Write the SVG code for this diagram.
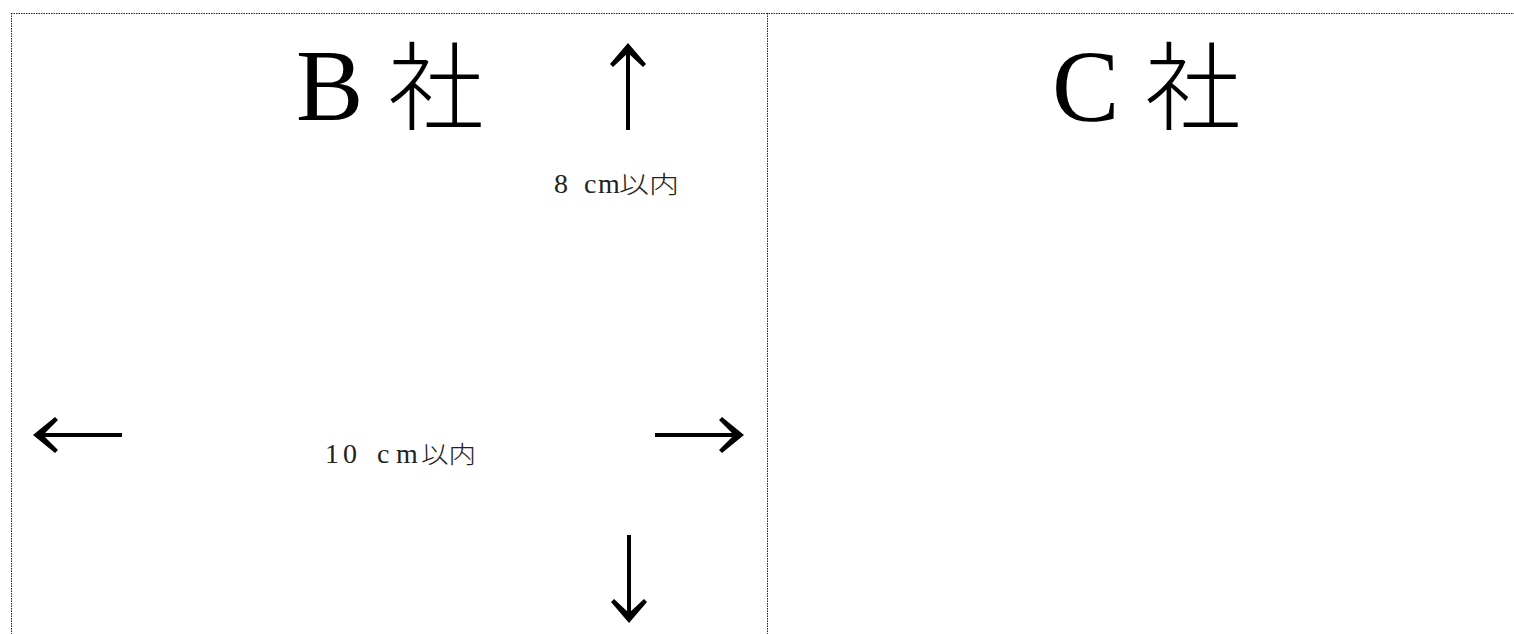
<svg xmlns="http://www.w3.org/2000/svg" width="1514" height="634" viewBox="0 0 1514 634">
<style>
.border{stroke:#222;stroke-width:1;stroke-dasharray:1.5 1;fill:none}
.title{font-family:"Liberation Serif","Noto Sans CJK JP",serif;font-size:101px;fill:#000}
.titlecjk{font-family:"Noto Sans CJK JP","Liberation Serif",sans-serif;font-size:96px;font-weight:300;fill:#000}
.lbl{font-family:"Liberation Serif","Noto Sans CJK JP",serif;font-size:28px;fill:#222}
.lblcjk{font-family:"Noto Sans CJK JP",sans-serif;font-size:24px;font-weight:300;fill:#222}
.arr{stroke:#000;stroke-width:4;fill:none;stroke-linecap:butt;stroke-linejoin:miter}
.head{fill:#000;stroke:none}
</style>
<rect width="1514" height="634" fill="#fff"/>
<g id="frame">
<line class="border" x1="11" y1="13.5" x2="1514" y2="13.5"/>
<line class="border" x1="11.5" y1="13" x2="11.5" y2="634"/>
<line class="border" x1="767.5" y1="13" x2="767.5" y2="634"/>
</g>
<g id="nodeB">
<text class="title" x="296" y="120">B</text>
<text class="titlecjk" x="388" y="122">社</text>
</g>
<g id="nodeC">
<text class="title" x="1052" y="121">C</text>
<text class="titlecjk" x="1145" y="122">社</text>
</g>
<g id="label8">
<text class="lbl" y="193"><tspan x="554">8</tspan><tspan x="584">c</tspan><tspan x="598">m</tspan></text>
<text class="lblcjk" x="619" y="193" textLength="60" lengthAdjust="spacingAndGlyphs">以内</text>
</g>
<g id="label10">
<text class="lbl" y="463"><tspan x="325">1</tspan><tspan x="343">0</tspan><tspan x="377">c</tspan><tspan x="396">m</tspan></text>
<text class="lblcjk" x="421" y="463" textLength="55" lengthAdjust="spacingAndGlyphs">以内</text>
</g>
<g id="connectors">
<line class="arr" x1="628" y1="130" x2="628" y2="50"/>
<path class="head" d="M628,43 L646,64 L643,67 L628,53 L613,67 L610,64 Z"/>
<line class="arr" x1="122" y1="435" x2="40" y2="435"/>
<path class="head" d="M33,435 L55,417 L58,420 L43,435 L58,450 L55,453 Z"/>
<line class="arr" x1="655" y1="435" x2="736" y2="435"/>
<path class="head" d="M744,435 L722,417 L719,420 L734,435 L719,450 L722,453 Z"/>
<line class="arr" x1="629" y1="535" x2="629" y2="615"/>
<path class="head" d="M629,623 L647,602 L644,599 L629,613 L614,599 L611,602 Z"/>
</g>
</svg>
